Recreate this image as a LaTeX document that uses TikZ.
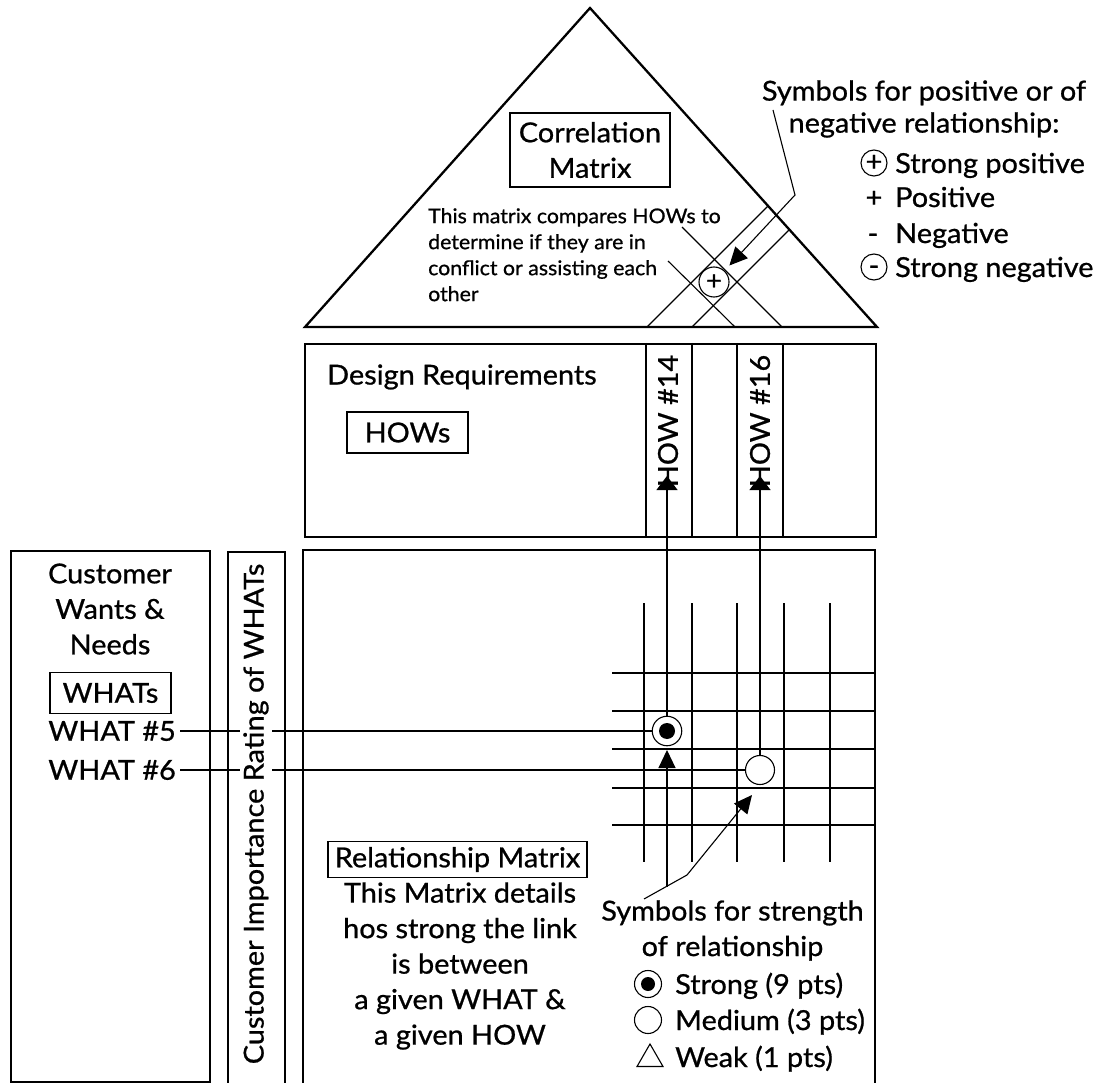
\documentclass[tikz,border=0pt]{standalone}
\usepackage{fontspec}
\setmainfont{Lato}[FakeStretch=1.05, FakeBold=0.8]
\usetikzlibrary{arrows.meta,shapes.geometric}
\newcommand{\txtL}{\fontsize{27.5}{35.5}\selectfont}
\newcommand{\txtS}{\fontsize{20.3}{26}\selectfont}
\begin{document}
\begin{tikzpicture}[x=1pt,y=-1pt,
  heavy/.style={line width=2.3pt},
  light/.style={line width=1.1pt},
  tag/.style={draw, line width=1.9pt, inner sep=0pt, align=center, font=\txtL},
  txt/.style={inner sep=0pt, font=\txtL, align=center},
  pointer/.style={light, -{Triangle[length=18pt,width=17pt]}},
  headtip/.style={light, -{Triangle[length=14pt,width=21pt]}},
  sym/.style={draw, circle, light, inner sep=0pt, minimum size=27pt, fill=white},
]
\useasboundingbox (0,0) rectangle (1101,1083);

% ---------------- roof: correlation matrix
\draw[heavy, line join=miter] (305,327) -- (590,8) -- (877,327) -- cycle;
\draw[light] (647,327) -- (768,206);
\draw[light] (692,327) -- (790,229);
\draw[light] (682,227) -- (782,327);
\draw[light] (668,261) -- (735,327);
\node[sym, minimum size=30pt, font=\fontsize{26}{26}\selectfont] (corr) at (714,282) {+};

\node[tag, minimum width=160pt, minimum height=74pt] (cm) at (590,150) {Correlation\\Matrix};
\node[txt, font=\txtS, align=left, anchor=north west] (corrnote) at (428,208)
  {This matrix compares HOWs to\\determine if they are in\\conflict or assisting each\\other};

% correlation legend
\node[txt, font=\fontsize{27.5}{32}\selectfont] (corrlegend) at (924,109) {Symbols for positive or of\\negative relationship:};
\node[sym, minimum size=26pt, font=\txtL] (lsp) at (874,163) {+};
\node[txt, anchor=base west] (tsp) at (895,173) {Strong positive};
\node[txt, anchor=base] (lp) at (874,207) {+};
\node[txt, anchor=base west] (tp) at (895,207) {Positive};
\node[txt, anchor=base] (ln) at (873,243) {-};
\node[txt, anchor=base west] (tn) at (895,243) {Negative};
\node[sym, minimum size=26pt, font=\txtL] (lsn) at (874,267) {\vphantom{+}-};
\node[txt, anchor=base west] (tsn) at (895,277) {Strong negative};

\coordinate (c1) at (773,110);
\coordinate (c2) at (795,195);
\draw[pointer, shorten >=7pt] (c1) -- (c2) -- (corr);

% ---------------- design requirements (HOWs)
\node[draw, heavy, minimum width=571pt, minimum height=193pt, anchor=north west, inner sep=0pt] (dr) at (304,343) {};
\foreach \cx in {646,692,737,783} \draw[light] (\cx,343) -- (\cx,536);
\node[txt, anchor=west] (drlabel) at (327,377) {Design Requirements};
\node[tag, minimum width=121pt, minimum height=41pt] (hows) at (407.5,432.5) {HOWs};
\node[txt, rotate=90] (how14) at (668,421) {HOW \#14};
\node[txt, rotate=90] (how16) at (760,421) {HOW \#16};
\coordinate (tip14) at (667,476);
\coordinate (tip16) at (760,476);

% ---------------- customer wants & needs (WHATs)
\node[draw, heavy, minimum width=199pt, minimum height=531pt, anchor=north west, inner sep=0pt] (cust) at (10,550) {};
\node[txt] (custlabel) at (110,609) {Customer\\Wants \&\\Needs};
\node[tag, minimum width=121pt, minimum height=41pt] (whats) at (110.5,693) {WHATs};
\node[txt, anchor=east] (w5) at (176,731) {WHAT \#5};
\node[txt, anchor=east] (w6) at (176,770) {WHAT \#6};

% importance rating column and relationship matrix frame
\draw[heavy] (228,1090) -- (228,552) -- (285,552) -- (285,1090);
\draw[heavy] (303,1090) -- (303,550) -- (875,550) -- (875,1090);

% grid of the relationship matrix
\foreach \cx in {644,692,737,784,830} \draw[light] (\cx,603) -- (\cx,862);
\foreach \cy in {673,711,749,788,825} \draw[light] (612,\cy) -- (875,\cy);

% relationship symbols in the matrix
\node[sym, minimum size=29.5pt] (strong) at (667,731) {};
\fill (strong.center) circle (8);
\node[sym, minimum size=29pt] (medium) at (760,770) {};

% links WHAT -> symbol -> HOW
\draw[light] ([xshift=4pt]w5.east) -- (strong.west);
\draw[light] ([xshift=4pt]w6.east) -- (medium.west);
\draw[headtip] (strong.north) -- (tip14);
\draw[headtip] (medium.north) -- (tip16);

\node[txt, rotate=90, fill=white, inner ysep=3pt] (rating) at (256,814) {Customer Importance Rating of WHATs};

% relationship matrix description
\node[tag, minimum width=259pt, minimum height=36pt] (rm) at (457.5,859.5) {Relationship Matrix};
\node[txt] (rmnote) at (460,966) {This Matrix details\\hos strong the link\\is between\\a given WHAT \&\\a given HOW};

% strength legend
\node[txt] (strlegend) at (732.5,930.5) {Symbols for strength\\of relationship};
\node[sym] (lstrong) at (648,984) {};
\fill (lstrong.center) circle (7);
\node[txt, anchor=base west] (tstrong) at (675,994) {Strong (9 pts)};
\node[sym] (lmed) at (648,1020) {};
\node[txt, anchor=base west] (tmed) at (675,1030) {Medium (3 pts)};
\node[draw, light, regular polygon, regular polygon sides=3, minimum size=30pt, inner sep=0pt] (lweak) at (650,1059) {};
\node[txt, anchor=base west] (tweak) at (675,1067) {Weak (1 pts)};

\coordinate (s0) at (644,899);
\coordinate (s1) at (687,875);
\coordinate (medtip) at (752,795);
\coordinate (branch) at (667,886.5);
\coordinate (weaktip) at (667,750);
\draw[pointer] (s0) -- (s1) -- (medtip);
\draw[pointer] (branch) -- (weaktip);
\end{tikzpicture}
\end{document}
